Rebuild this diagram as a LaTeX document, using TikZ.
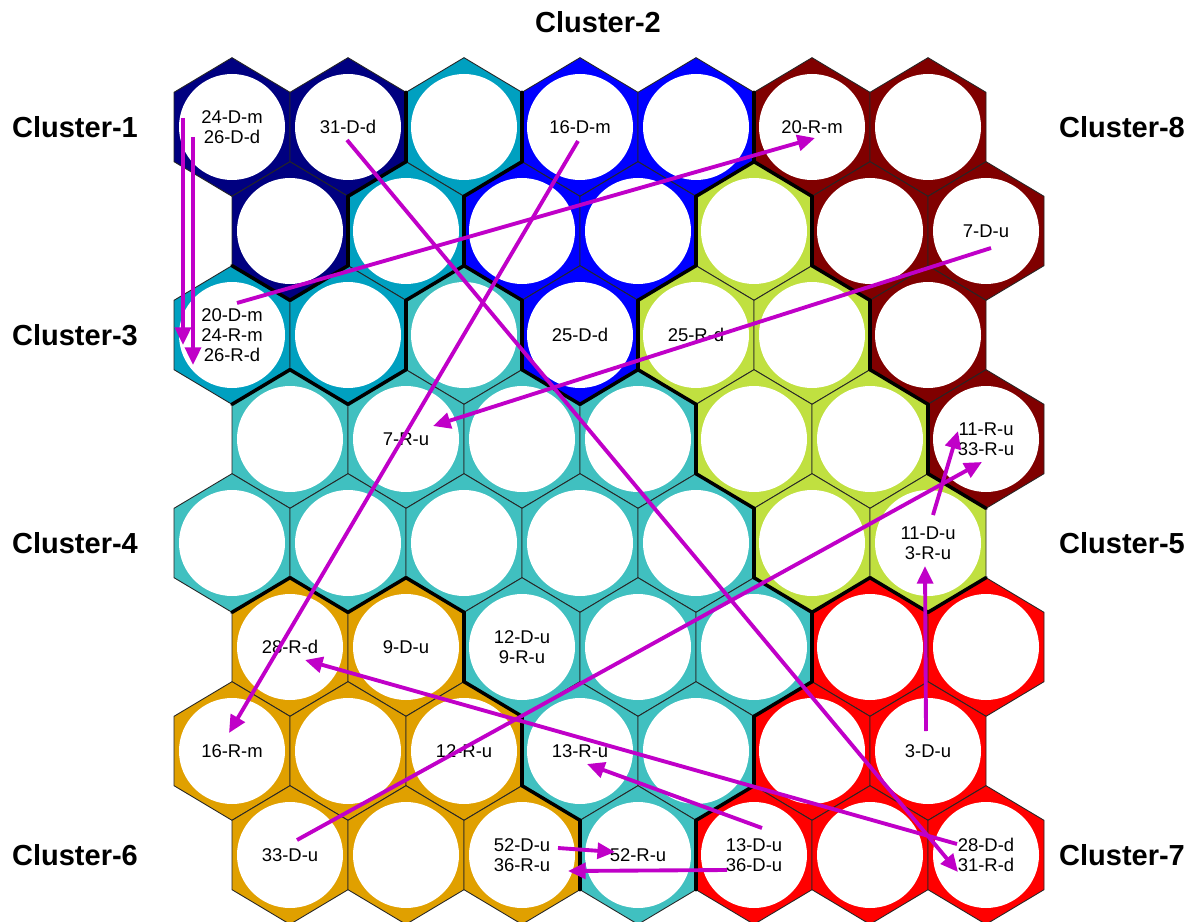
\documentclass[tikz,border=0pt]{standalone}
\usepackage{fontspec}
\setmainfont{Liberation Sans}
\definecolor{cl1}{HTML}{000080}
\definecolor{cl2}{HTML}{0000FF}
\definecolor{cl3}{HTML}{00A0C0}
\definecolor{cl4}{HTML}{40C0C0}
\definecolor{cl5}{HTML}{C0E040}
\definecolor{cl6}{HTML}{E0A000}
\definecolor{cl7}{HTML}{FF0000}
\definecolor{cl8}{HTML}{800000}
\definecolor{movecol}{HTML}{C000C8}
\usetikzlibrary{arrows.meta, calc}

% cluster of each unit, row by row (7 units per row)
\def\clmap{{1,1,3,2,2,8,8,%
            1,3,2,2,5,8,8,%
            3,3,4,2,5,5,8,%
            4,4,4,4,5,5,8,%
            4,4,4,4,4,5,5,%
            6,6,4,4,4,7,7,%
            6,6,6,4,4,7,7,%
            6,6,6,4,7,7,7}}

\begin{document}
\begin{tikzpicture}[
    x=0.02cm, y=-0.02cm,
    cell/.style={draw=black!85, line width=0.5pt},
    unit/.style={fill=white},
    clborder/.style={draw=black, line width=2pt, line cap=round},
    celltext/.style={align=center, inner sep=0pt,
                     font=\fontsize{10.5}{11.5}\selectfont},
    cluster/.style={font=\bfseries\fontsize{16.5}{19}\selectfont},
    move/.style={-{Triangle[length=10pt,width=9pt]}, draw=movecol,
                 line width=2.2pt}
  ]
    \useasboundingbox (0,0) rectangle (1200,922);

    % hexagons and their units
    \foreach \row in {0,...,7} {
      \foreach \col in {0,...,6} {
        \pgfmathtruncatemacro\clu{\clmap[\row*7+\col]}
        \pgfmathsetmacro\cx{232+116*\col+58*mod(\row,2)}
        \pgfmathsetmacro\cy{127+104*\row}
        \coordinate (cell-\row-\col) at (\cx,\cy);
        \path[cell, fill=cl\clu] (\cx,\cy-69.33) -- (\cx+58,\cy-34.67)
          -- (\cx+58,\cy+34.67) -- (\cx,\cy+69.33) -- (\cx-58,\cy+34.67)
          -- (\cx-58,\cy-34.67) -- cycle;
        \path[unit] (cell-\row-\col) circle [radius=53];
      }
    }

    % thick lines between clusters
    \foreach \row in {0,...,7} {
      \foreach \col in {0,...,6} {
        \pgfmathtruncatemacro\clu{\clmap[\row*7+\col]}
        \pgfmathsetmacro\cx{232+116*\col+58*mod(\row,2)}
        \pgfmathsetmacro\cy{127+104*\row}
        \pgfmathtruncatemacro\lcol{\col-1+mod(\row,2)}
        \pgfmathtruncatemacro\rcol{\lcol+1}
        \ifnum\col<6
          \pgfmathtruncatemacro\nb{\clmap[\row*7+\col+1]}
          \ifnum\nb=\clu\else
            \draw[clborder] (\cx+58,\cy-34.67) -- (\cx+58,\cy+34.67);
          \fi
        \fi
        \ifnum\row<7
          \ifnum\lcol>-1
            \pgfmathtruncatemacro\nb{\clmap[(\row+1)*7+\lcol]}
            \ifnum\nb=\clu\else
              \draw[clborder] (\cx,\cy+69.33) -- (\cx-58,\cy+34.67);
            \fi
          \fi
          \ifnum\rcol<7
            \pgfmathtruncatemacro\nb{\clmap[(\row+1)*7+\rcol]}
            \ifnum\nb=\clu\else
              \draw[clborder] (\cx+58,\cy+34.67) -- (\cx,\cy+69.33);
            \fi
          \fi
        \fi
      }
    }

    \node[cluster] (cl-1) at (75,127) {Cluster-1};
    \node[cluster] (cl-2) at (598,22) {Cluster-2};
    \node[cluster] (cl-3) at (75,335) {Cluster-3};
    \node[cluster] (cl-4) at (75,543) {Cluster-4};
    \node[cluster] (cl-5) at (1122,543) {Cluster-5};
    \node[cluster] (cl-6) at (75,855) {Cluster-6};
    \node[cluster] (cl-7) at (1122,855) {Cluster-7};
    \node[cluster] (cl-8) at (1122,127) {Cluster-8};

    \foreach \row/\col/\txt in {0/0/{24-D-m\\26-D-d}, 0/1/{31-D-d},
        0/3/{16-D-m}, 0/5/{20-R-m}, 1/6/{7-D-u},
        2/0/{20-D-m\\24-R-m\\26-R-d}, 2/3/{25-D-d}, 2/4/{25-R-d},
        3/1/{7-R-u}, 3/6/{11-R-u\\33-R-u}, 4/6/{11-D-u\\3-R-u},
        5/0/{28-R-d}, 5/1/{9-D-u}, 5/2/{12-D-u\\9-R-u},
        6/0/{16-R-m}, 6/2/{12-R-u}, 6/3/{13-R-u}, 6/6/{3-D-u},
        7/0/{33-D-u}, 7/2/{52-D-u\\36-R-u}, 7/3/{52-R-u},
        7/4/{13-D-u\\36-D-u}, 7/6/{28-D-d\\31-R-d}}
      \node[celltext] (txt-\row-\col) at (cell-\row-\col) {\txt};

    % moves of the samples
    \draw[move] ($(cell-0-0)+(-49,-9)$) -- ($(cell-2-0)+(-49,10)$);
    \draw[move] ($(cell-0-0)+(-39,10)$) -- ($(cell-2-0)+(-39,30)$);
    \draw[move] ($(cell-2-0)+(5,-32)$) -- ($(cell-0-5)+(3,11)$);
    \draw[move] ($(cell-0-1)+(-1,13)$) -- ($(cell-7-6)+(-28,17)$);
    \draw[move] ($(cell-0-3)+(-2,14)$) -- ($(cell-6-0)+(-3,-18)$);
    \draw[move] ($(cell-1-6)+(5,17)$) -- ($(cell-3-1)+(27,-13)$);
    \draw[move] ($(cell-4-6)+(5,-28)$) -- ($(cell-3-6)+(-28,-8)$);
    \draw[move] ($(cell-7-0)+(7,-15)$) -- ($(cell-3-6)+(-4,23)$);
    \draw[move] ($(cell-6-6)+(-2,-20)$) -- ($(cell-4-6)+(-3,23)$);
    \draw[move] ($(cell-7-6)+(-29,-11)$) -- ($(cell-5-0)+(15,13)$);
    \draw[move] ($(cell-7-4)+(8,-27)$) -- ($(cell-6-3)+(7,13)$);
    \draw[move] ($(cell-7-2)+(36,-7)$) -- ($(cell-7-3)+(-23,-3)$);
    \draw[move] ($(cell-7-4)+(-27,15)$) -- ($(cell-7-2)+(46,16)$);
\end{tikzpicture}
\end{document}
